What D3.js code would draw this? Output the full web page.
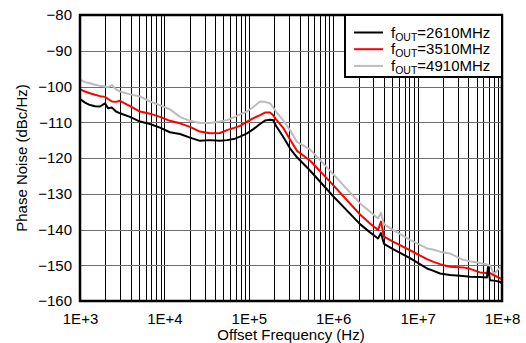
<!DOCTYPE html>
<html><head><meta charset="utf-8">
<script src="https://cdn.jsdelivr.net/npm/d3@7"></script>
<style>
body{margin:0;background:#fff}
svg{display:block}
text{font-family:"Liberation Sans",Arial,Helvetica,sans-serif;fill:#000}
</style>
</head><body>
<svg id="chart" width="526" height="343"></svg>
<script>
// ---- data ----
const freqs = [1000,1146,1314,1507,1727,1979,2147,2395,2672,2980,3911,5138,6746,8869,11640,15300,20090,26400,34670,45600,55200,68600,78700,95300,112200,135800,155600,178300,193600,210000,254100,307600,372400,531000,1000000,2080000,2731000,3396000,3683000,3996000,5113000,8128000,12920000,15210000,18410000,24210000,34510000,41780000,54840000,66400000,68300000,72100000,80400000,94600000,100000000];
const pn2610 = [-103.5,-104.5,-105.2,-105.5,-105.6,-104.7,-106.1,-105.9,-107,-107.5,-108.5,-109.8,-110.5,-111.5,-112.8,-113.3,-114.3,-115.2,-115,-115.2,-115,-114.6,-114,-113.1,-112,-110.5,-109.5,-109.3,-109.4,-111,-114,-117.3,-119.8,-123.5,-130.7,-138.5,-140.8,-142.5,-141,-144,-145.5,-148,-150.9,-151.5,-152.3,-152.7,-153,-153.2,-153.3,-153.4,-150.5,-154.2,-154.3,-154.6,-155.2];
const pn3510 = [-100.8,-101.4,-101.9,-102.3,-102.7,-102.9,-103.5,-104.2,-104.3,-104,-105.5,-107,-107.6,-108.5,-109.6,-110.3,-111.3,-112.6,-113.1,-113,-112.2,-111.5,-111,-109.8,-108.9,-108,-107.3,-107.3,-108,-109.2,-111.5,-114.8,-118,-120.7,-127.6,-135.8,-138.3,-140.1,-137.8,-142,-143.4,-145.8,-148.3,-149,-149.7,-150.4,-150.6,-151,-152,-152.2,-152.3,-152.2,-152.8,-153.6,-154];
const pn4910 = [-98.1,-98.8,-99.1,-99.5,-99.8,-100,-100.2,-99.6,-100.8,-101.4,-102.2,-102.8,-104.2,-105.2,-106.4,-108.5,-109.6,-110.2,-110.2,-109.8,-109.4,-108.5,-107.8,-107,-105.8,-104.2,-104.3,-104.7,-105.8,-107,-109.4,-112.2,-115.5,-117.6,-124.5,-132.7,-135,-136.9,-135.3,-138.5,-140.1,-142.9,-145.3,-145.6,-146.2,-146.7,-148.5,-148.9,-149.4,-149.8,-149.9,-150,-152.5,-150.6,-150.8];
const seriesLabels = ["=2610MHz","=3510MHz","=4910MHz"];
const seriesColors = ["#000000","#ff0000","#bcbcbc"];
const yTicks = [-80,-90,-100,-110,-120,-130,-140,-150,-160];
const xTicks = [1e3,1e4,1e5,1e6,1e7,1e8];
const xTickLabels = ["1E+3","1E+4","1E+5","1E+6","1E+7","1E+8"];

// ---- layout ----
const W = 526, H = 343;
const m = {left:80, right:24, top:15, bottom:42};
const pw = W - m.left - m.right, ph = H - m.top - m.bottom;
const svg = d3.select("#chart");
const g = svg.append("g").attr("transform",`translate(${m.left},${m.top})`);

const x = d3.scaleLog().domain([1e3,1e8]).range([0,pw]);
const y = d3.scaleLinear().domain([-160,-80]).range([ph,0]);

// minor vertical grid
const minor = [];
for (let e=3;e<8;e++) for (let k=1;k<=9;k++) minor.push(k*Math.pow(10,e));
minor.push(1e8);
g.append("g").selectAll("line").data(minor).join("line")
  .attr("x1",d=>Math.round(x(d))+0.5).attr("x2",d=>Math.round(x(d))+0.5)
  .attr("y1",0).attr("y2",ph)
  .attr("stroke","#000").attr("stroke-width",1);
// horizontal grid
g.append("g").selectAll("line").data(yTicks).join("line")
  .attr("x1",0).attr("x2",pw)
  .attr("y1",d=>Math.round(y(d))+0.5).attr("y2",d=>Math.round(y(d))+0.5)
  .attr("stroke","#6e6e6e").attr("stroke-width",1.2);

// curves
const series = [pn2610,pn3510,pn4910];
const line = d3.line().x((d,i)=>x(freqs[i])).y(d=>y(d));
[2,1,0].forEach(s=>{
  g.append("path").datum(series[s]).attr("d",line)
   .attr("fill","none").attr("stroke",seriesColors[s]).attr("stroke-width",2)
   .attr("stroke-linejoin","round");
});

// frame
g.append("rect").attr("x",0).attr("y",0).attr("width",pw).attr("height",ph)
  .attr("fill","none").attr("stroke","#000").attr("stroke-width",2.5);

// axes labels
const xa = g.append("g").attr("transform",`translate(0,${ph})`)
  .call(d3.axisBottom(x).tickValues(xTicks).tickFormat((d,i)=>xTickLabels[i]).tickSize(0).tickPadding(12));
const ya = g.append("g")
  .call(d3.axisLeft(y).tickValues(yTicks).tickFormat(d3.format("d")).tickSize(0).tickPadding(8));
[xa,ya].forEach(a=>{a.select(".domain").remove();
  a.selectAll("text").attr("font-size",15).attr("font-family",'"Liberation Sans",Arial,sans-serif').attr("fill","#000");});

svg.append("text").attr("x",m.left+pw/2).attr("y",340).attr("text-anchor","middle")
  .attr("font-size",15).text("Offset Frequency (Hz)");
svg.append("text").attr("transform",`translate(27,${m.top+ph/2}) rotate(-90)`)
  .attr("text-anchor","middle").attr("font-size",15).text("Phase Noise (dBc/Hz)");

// legend
const lx = 345, ly = m.top, lw = m.left+pw-lx, lh = 62;
const lg = svg.append("g");
lg.append("rect").attr("x",lx).attr("y",ly).attr("width",lw).attr("height",lh)
  .attr("fill","#fff").attr("stroke","#000").attr("stroke-width",2);
seriesLabels.forEach((lab,i)=>{
  const yy = 32.5 + i*16.7;
  lg.append("line").attr("x1",354).attr("x2",383).attr("y1",yy).attr("y2",yy)
    .attr("stroke",seriesColors[i]).attr("stroke-width",2);
  const t = lg.append("text").attr("x",391).attr("y",yy+5).attr("font-size",15);
  t.append("tspan").text("f");
  t.append("tspan").attr("font-size",10.5).attr("dy",3).text("OUT");
  t.append("tspan").attr("dy",-3).text(lab);
});
</script>
</body></html>
